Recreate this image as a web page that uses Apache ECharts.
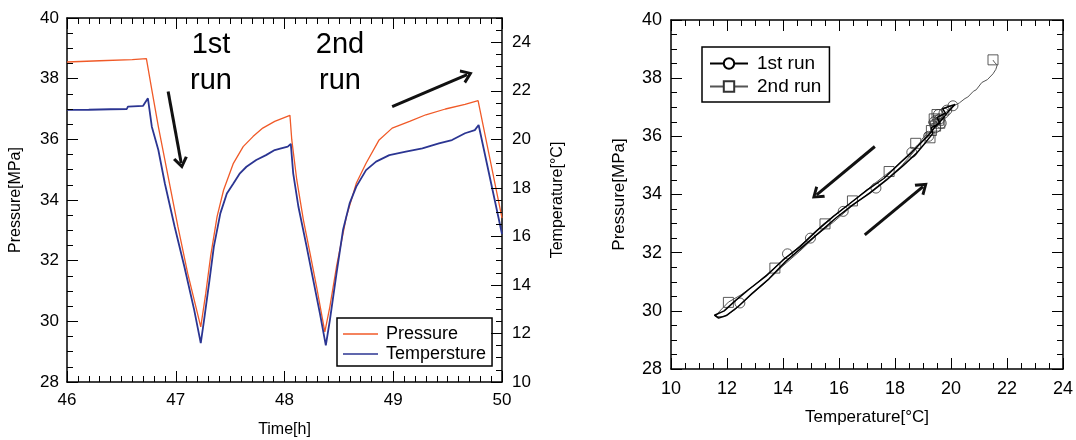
<!DOCTYPE html>
<html><head><meta charset="utf-8">
<script src="https://cdn.jsdelivr.net/npm/echarts@6/dist/echarts.min.js"></script>
<style>html,body{margin:0;padding:0;background:#fff}#c{width:1076px;height:440px}</style>
</head><body><div id="c"></div>
<script>
// ---- Left chart: time series ----
const timeP = [46.0, 46.3, 46.6, 46.73, 46.78, 46.84, 46.93, 47.02, 47.11, 47.23, 47.276, 47.32, 47.38, 47.44, 47.53, 47.62, 47.71, 47.80, 47.91, 48.05, 48.067, 48.113, 48.174, 48.235, 48.295, 48.371, 48.417, 48.478, 48.569, 48.66, 48.75, 48.87, 48.99, 49.15, 49.30, 49.48, 49.66, 49.78, 50.0];
const pressure = [38.55, 38.59, 38.63, 38.66, 37.63, 36.42, 34.77, 33.12, 31.58, 29.82, 30.92, 32.13, 33.45, 34.33, 35.21, 35.76, 36.09, 36.37, 36.59, 36.79, 35.98, 34.66, 33.34, 32.24, 31.14, 29.65, 30.48, 31.80, 33.45, 34.55, 35.21, 35.98, 36.37, 36.59, 36.81, 37.0, 37.15, 37.28, 33.4];
const timeT = [46.0, 46.2, 46.4, 46.55, 46.56, 46.70, 46.744, 46.78, 46.84, 46.90, 46.99, 47.08, 47.17, 47.23, 47.26, 47.31, 47.35, 47.41, 47.47, 47.53, 47.59, 47.65, 47.74, 47.83, 47.91, 47.96, 48.03, 48.058, 48.08, 48.128, 48.204, 48.265, 48.326, 48.38, 48.417, 48.478, 48.538, 48.599, 48.66, 48.75, 48.842, 48.964, 49.116, 49.268, 49.42, 49.54, 49.66, 49.75, 49.785, 50.0];
const temperature = [21.21, 21.22, 21.24, 21.25, 21.35, 21.38, 21.69, 20.52, 19.56, 18.18, 16.40, 14.74, 12.96, 11.6, 12.54, 14.19, 15.57, 16.95, 17.77, 18.18, 18.60, 18.87, 19.15, 19.35, 19.56, 19.62, 19.70, 19.81, 18.60, 17.22, 15.57, 14.19, 12.82, 11.51, 12.54, 14.47, 16.26, 17.36, 18.05, 18.73, 19.08, 19.35, 19.49, 19.63, 19.83, 19.97, 20.25, 20.38, 20.59, 16.1];
// [min, max, major step, minor step]
const timeTicks = [46, 50, 1, 0.1];
const pressureTicks = [28, 40, 2, 0.5];
const tempTicks = [10, 25, 2, 0.5];
// annotation arrows [x1, y1, x2, y2] in data units (time, pressure)
const leftArrows = [[46.93, 37.58, 47.05, 35.22], [48.99, 37.08, 49.68, 38.13]];
const leftNotes = ['1st\nrun', '2nd\nrun'];

// ---- Right chart: pressure vs temperature ----
const run1T = [20.15, 19.9, 19.7, 19.5, 19.2, 19.0, 18.6, 18.2, 17.6, 17.0, 16.4, 15.8, 15.2, 14.6, 14.0, 13.4, 12.8, 12.3, 11.9, 11.55, 11.7, 12.0, 12.4, 12.9, 13.5, 14.1, 14.7, 15.3, 15.9, 16.5, 17.1, 17.7, 18.3, 18.8, 19.1, 19.35, 19.3, 19.6, 19.5, 19.8, 19.7, 20.0, 20.15];
const run1P = [37.1, 36.85, 36.6, 36.4, 36.05, 35.85, 35.45, 35.1, 34.55, 34.15, 33.7, 33.25, 32.75, 32.2, 31.75, 31.2, 30.75, 30.35, 30.0, 29.85, 29.75, 29.85, 30.15, 30.6, 31.1, 31.7, 32.2, 32.7, 33.2, 33.65, 34.05, 34.5, 35.0, 35.45, 35.8, 36.1, 36.3, 36.45, 36.65, 36.8, 36.95, 37.05, 37.1];
const run2T = [21.5, 21.55, 21.65, 21.6, 21.5, 21.3, 21.1, 20.9, 20.8, 20.6, 20.5, 20.3, 20.0, 19.8, 19.6, 19.4, 19.2, 18.8, 18.4, 17.9, 17.3, 16.6, 16.0, 15.4, 14.8, 14.2, 13.6, 13.0, 12.5, 12.05, 11.7, 11.6, 11.9, 12.3, 12.8, 13.4, 14.0, 14.6, 15.2, 15.8, 16.4, 17.0, 17.6, 18.2, 18.7, 19.0, 19.3, 19.2, 19.5, 19.7];
const run2P = [38.62, 38.55, 38.45, 38.3, 38.15, 37.95, 37.85, 37.6, 37.55, 37.35, 37.3, 37.15, 37.0, 36.8, 36.55, 36.3, 36.0, 35.7, 35.3, 34.85, 34.4, 33.85, 33.4, 32.95, 32.4, 31.9, 31.4, 30.9, 30.55, 30.3, 29.95, 29.8, 29.8, 30.05, 30.5, 31.0, 31.55, 32.05, 32.6, 33.05, 33.55, 34.0, 34.45, 34.95, 35.5, 35.95, 36.2, 36.5, 36.6, 36.75];
const mark1T = [20.07, 19.85, 19.75, 19.6, 19.55, 19.45, 19.65, 19.4, 19.2, 18.6, 17.32, 16.15, 14.98, 14.16, 12.46];
const mark1P = [37.05, 36.9, 36.8, 36.6, 36.75, 36.3, 36.45, 36.5, 36.0, 35.45, 34.22, 33.42, 32.5, 31.96, 30.27];
const mark2T = [21.5, 19.45, 19.3, 19.55, 19.4, 19.6, 19.25, 19.5, 18.74, 17.79, 16.48, 15.5, 13.71, 12.05];
const mark2P = [38.63, 36.35, 36.2, 36.55, 36.6, 36.45, 35.95, 36.75, 35.76, 34.79, 33.78, 32.99, 31.47, 30.29];
const rightXTicks = [10, 24, 2, 0.5];
const rightYTicks = [28, 40, 2, 0.5];
const rightArrows = [[17.28, 35.65, 15.2, 33.99], [16.92, 32.61, 19.0, 34.27]];

const FONT = '"Liberation Sans", Arial, sans-serif';
const ORANGE = '#f05a28';
const BLUE = '#2b3592';
const MAJOR_LEN = 11, MINOR_LEN = 6;
const G0 = { left: 67, top: 18, width: 435, height: 364 };
const G1 = { left: 671, top: 20, width: 392, height: 349 };
const zip = (a, b) => a.map((v, i) => [v, b[i]]);
const chevron = 'path://M0,14 L10,0 L20,14 L16.5,16 L10,6.5 L3.5,16 Z';

function tickList(spec) {
  const out = [];
  const n = Math.round((spec[1] - spec[0]) / spec[3]);
  for (let i = 0; i <= n; i++) {
    const v = Math.round((spec[0] + i * spec[3]) * 1e6) / 1e6;
    const r = v / spec[2];
    out.push([v, Math.abs(r - Math.round(r)) < 1e-6]);
  }
  return out;
}
// inward tick marks as short markLines in data space of the axes
function tickPairs(xSpec, ySpec, grid, xTicks, yTicks, ySides) {
  const xu = grid.width / (xSpec[1] - xSpec[0]);   // px per x unit
  const yu = grid.height / (ySpec[1] - ySpec[0]);  // px per y unit
  const pairs = [];
  if (xTicks) tickList(xSpec).forEach(([v, major]) => {
    const L = (major ? MAJOR_LEN : MINOR_LEN) / yu;
    pairs.push([{ coord: [v, ySpec[0]] }, { coord: [v, ySpec[0] + L] }]);
    pairs.push([{ coord: [v, ySpec[1]] }, { coord: [v, ySpec[1] - L] }]);
  });
  if (yTicks) tickList(ySpec).forEach(([v, major]) => {
    const L = (major ? MAJOR_LEN : MINOR_LEN) / xu;
    if (ySides.indexOf('left') >= 0) pairs.push([{ coord: [xSpec[0], v] }, { coord: [xSpec[0] + L, v] }]);
    if (ySides.indexOf('right') >= 0) pairs.push([{ coord: [xSpec[1], v] }, { coord: [xSpec[1] - L, v] }]);
  });
  return pairs;
}
function tickSeries(xIdx, yIdx, pairs, origin) {
  return {
    type: 'line', xAxisIndex: xIdx, yAxisIndex: yIdx, data: [origin], symbol: 'none', silent: true,
    lineStyle: { opacity: 0 }, tooltip: { show: false },
    markLine: {
      silent: true, animation: false, symbol: ['none', 'none'],
      label: { show: false }, emphasis: { disabled: true },
      lineStyle: { color: '#000', width: 1, type: 'solid', opacity: 1 },
      data: pairs
    }
  };
}

function axis(ticks, fs, extra) {
  const base = {
    type: 'value', min: ticks[0], max: ticks[1], interval: ticks[2],
    axisLine: { show: true, lineStyle: { color: '#000', width: 1.5 } },
    axisTick: { show: false }, minorTick: { show: false },
    splitLine: { show: false }, minorSplitLine: { show: false },
    axisLabel: { show: true, color: '#000', fontFamily: FONT, fontSize: fs, margin: 8 },
    nameLocation: 'middle',
    nameTextStyle: { color: '#000', fontFamily: FONT, fontSize: fs - 1 }
  };
  const out = Object.assign({}, base, extra);
  if (extra.axisLabel) out.axisLabel = Object.assign({}, base.axisLabel, extra.axisLabel);
  return out;
}
function arrowLine(arr) {
  return {
    silent: true, animation: false,
    symbol: ['none', chevron], symbolSize: [15, 12],
    label: { show: false },
    lineStyle: { color: '#111', width: 3, type: 'solid' },
    itemStyle: { color: '#111' },
    emphasis: { disabled: true },
    data: arr.map(a => [{ coord: [a[0], a[1]] }, { coord: [a[2], a[3]] }])
  };
}

const chart = echarts.init(document.getElementById('c'));
chart.setOption({
  animation: false,
  backgroundColor: '#fff',
  grid: [
    Object.assign({ outerBoundsMode: 'none', containLabel: false }, G0),
    Object.assign({ outerBoundsMode: 'none', containLabel: false }, G1)
  ],
  xAxis: [
    axis(timeTicks, 17, { gridIndex: 0, position: 'bottom', name: 'Time[h]', nameGap: 40, axisLabel: { margin: 10 } }),
    axis(timeTicks, 17, { gridIndex: 0, position: 'top', axisLabel: { show: false } }),
    axis(rightXTicks, 18, { gridIndex: 1, position: 'bottom', name: 'Temperature[°C]', nameGap: 40, axisLabel: { margin: 11 } }),
    axis(rightXTicks, 18, { gridIndex: 1, position: 'top', axisLabel: { show: false } })
  ],
  yAxis: [
    axis(pressureTicks, 17, { gridIndex: 0, position: 'left', name: 'Pressure[MPa]', nameGap: 43, axisLabel: { margin: 8 } }),
    axis(tempTicks, 17, { gridIndex: 0, position: 'right', name: 'Temperature[°C]', nameGap: 48,
      axisLabel: { margin: 10, formatter: v => (v > 24 ? '' : String(v)) } }),
    axis(rightYTicks, 18, { gridIndex: 1, position: 'left', name: 'Pressure[MPa]', nameGap: 43, axisLabel: { margin: 9 } }),
    axis(rightYTicks, 18, { gridIndex: 1, position: 'right', axisLabel: { show: false } })
  ],
  legend: [
    { data: ['Pressure', 'Tempersture'], left: 337, top: 318, orient: 'vertical', selectedMode: false,
      icon: 'rect', itemWidth: 35, itemHeight: 1.5, itemGap: 2,
      padding: [7, 6, 3, 6], borderColor: '#000', borderWidth: 1.5, backgroundColor: '#fff',
      textStyle: { color: '#000', fontFamily: FONT, fontSize: 18, padding: [0, 0, 0, 3] } },
    { data: ['1st run', '2nd run'], left: 702, top: 47, orient: 'vertical', selectedMode: false,
      itemWidth: 38, itemHeight: 13, itemGap: 4,
      padding: [7, 8, 6, 7], borderColor: '#000', borderWidth: 1.5, backgroundColor: '#fff',
      textStyle: { color: '#000', fontFamily: FONT, fontSize: 19, padding: [0, 0, 0, 4] } }
  ],
  graphic: [
    { type: 'text', x: 211, y: 27, silent: true, style: { text: leftNotes[0], fontFamily: FONT, fontSize: 29, lineHeight: 36, textAlign: 'center', textVerticalAlign: 'top', fill: '#000' } },
    { type: 'text', x: 340, y: 27, silent: true, style: { text: leftNotes[1], fontFamily: FONT, fontSize: 29, lineHeight: 36, textAlign: 'center', textVerticalAlign: 'top', fill: '#000' } }
  ],
  series: [
    tickSeries(0, 0, tickPairs(timeTicks, pressureTicks, G0, true, true, ['left']), [timeTicks[0], pressureTicks[0]]),
    tickSeries(0, 1, tickPairs(timeTicks, tempTicks, G0, false, true, ['right']), [timeTicks[0], tempTicks[0]]),
    tickSeries(2, 2, tickPairs(rightXTicks, rightYTicks, G1, true, true, ['left', 'right']), [rightXTicks[0], rightYTicks[0]]),
    { name: 'Pressure', type: 'line', xAxisIndex: 0, yAxisIndex: 0, data: zip(timeP, pressure), symbol: 'none',
      lineStyle: { color: ORANGE, width: 1.3 }, itemStyle: { color: ORANGE }, silent: true, markLine: arrowLine(leftArrows) },
    { name: 'Tempersture', type: 'line', xAxisIndex: 0, yAxisIndex: 1, data: zip(timeT, temperature), symbol: 'none',
      lineStyle: { color: BLUE, width: 1.8 }, itemStyle: { color: BLUE }, silent: true },
    { name: '2nd run', type: 'line', xAxisIndex: 2, yAxisIndex: 2, data: zip(run2T, run2P), symbol: 'rect', showSymbol: false,
      lineStyle: { color: '#555', width: 1 }, itemStyle: { color: '#fff', borderColor: '#333', borderWidth: 1 }, silent: true },
    { name: '1st run', type: 'line', xAxisIndex: 2, yAxisIndex: 2, data: zip(run1T, run1P), symbol: 'circle', showSymbol: false,
      lineStyle: { color: '#000', width: 1.5 }, itemStyle: { color: '#fff', borderColor: '#000', borderWidth: 1 }, silent: true,
      markLine: arrowLine(rightArrows) },
    { name: '1st run', type: 'scatter', xAxisIndex: 2, yAxisIndex: 2, data: zip(mark1T, mark1P), symbol: 'circle', symbolSize: 10,
      itemStyle: { color: 'rgba(0,0,0,0)', borderColor: '#333', borderWidth: 1 }, silent: true },
    { name: '2nd run', type: 'scatter', xAxisIndex: 2, yAxisIndex: 2, data: zip(mark2T, mark2P), symbol: 'rect', symbolSize: 10,
      itemStyle: { color: 'rgba(0,0,0,0)', borderColor: '#333', borderWidth: 1 }, silent: true }
  ]
});
</script>
</body></html>
